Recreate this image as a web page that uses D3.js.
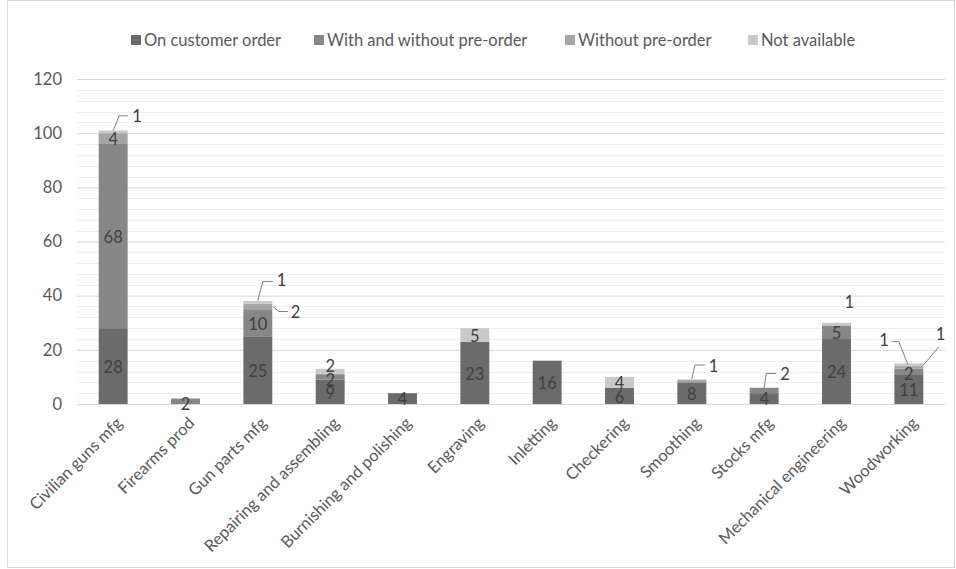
<!DOCTYPE html>
<meta charset="utf-8">
<title>Workshops by order type</title>
<script src="https://cdn.jsdelivr.net/npm/d3@7"></script>
<style>
html, body {
    margin: 0;
    background: #fff;
}
text {
    font-family: Lato, "Open Sans", sans-serif;
}
</style>
<body>
<script>
var categories = ["Civilian guns mfg", "Firearms prod", "Gun parts mfg", "Repairing and assembling",
    "Burnishing and polishing", "Engraving", "Inletting", "Checkering", "Smoothing", "Stocks mfg",
    "Mechanical engineering", "Woodworking"];
var seriesNames = ["On customer order", "With and without pre-order", "Without pre-order", "Not available"];
var onCustomer     = [28, 0, 25, 9, 4, 23, 16, 6, 8, 4, 24, 11];
var withAndWithout = [68, 2, 10, 2, 0, 0, 0, 0, 0, 2, 5, 2];
var withoutPre     = [4, 0, 2, 0, 0, 0, 0, 0, 1, 0, 0, 1];
var notAvailable   = [1, 0, 1, 2, 0, 5, 0, 4, 0, 0, 1, 1];
var yTicks = [0, 20, 40, 60, 80, 100, 120];

var keys = ["onCustomer", "withAndWithout", "withoutPre", "notAvailable"];
var colors = ["#6b6b6b", "#878787", "#a5a5a5", "#c9c9c9"];

// labels that sit off their segment (offsets from segment centre)
var callouts = [
    {cat: 0, key: "notAvailable", pts: [[0, -1], [6, -16], [15, -16]], at: [19, -16], anchor: "start"},
    {cat: 2, key: "notAvailable", pts: [[0, -2], [5, -21], [15, -21]], at: [19, -22], anchor: "start"},
    {cat: 2, key: "withoutPre", pts: [[15, 0], [21, 5], [30, 5]], at: [33, 6], anchor: "start"},
    {cat: 3, key: "notAvailable", pts: [], at: [0, -5], anchor: "middle"},
    {cat: 8, key: "withoutPre", pts: [[0, -2], [3, -16], [13, -16]], at: [17, -15], anchor: "start"},
    {cat: 9, key: "withAndWithout", pts: [[0, -2], [2, -17], [12, -17]], at: [16, -16], anchor: "start"},
    {cat: 10, key: "notAvailable", pts: [], at: [8, -22], anchor: "start"},
    {cat: 11, key: "withoutPre", pts: [[-1, -3], [-10, -26], [-17, -26]], at: [-20, -27], anchor: "end"},
    {cat: 11, key: "notAvailable", pts: [[14, 1], [30, -18]], at: [27, -31], anchor: "start"}
];

var width = 956,
    height = 569,
    plotLeft = 77,
    plotRight = 945,
    plotTop = 79,
    plotBottom = 404,
    fontSize = "16.5px";

var table = categories.map(function(c, i) {
    return {cat: c, i: i, onCustomer: onCustomer[i], withAndWithout: withAndWithout[i],
        withoutPre: withoutPre[i], notAvailable: notAvailable[i]};
});

var stacked = d3.stack().keys(keys)(table);

var x = d3.scaleBand().domain(categories).range([plotLeft, plotRight]).paddingInner(0.6).paddingOuter(0.3);
var y = d3.scaleLinear().domain([0, 120]).range([plotBottom, plotTop]);

var svg = d3.select("body").append("svg")
    .attr("width", width)
    .attr("height", height);

svg.append("rect")
    .attr("x", 7.5).attr("y", 0.5)
    .attr("width", 947).attr("height", 567)
    .attr("fill", "#fff")
    .attr("stroke", "#d9d9d9");

// minor grid every 4, major every 20
svg.append("g").selectAll("line")
    .data(d3.range(4, 121, 4).filter(function(v) { return v % 20 !== 0; }))
    .enter().append("line")
    .attr("x1", plotLeft).attr("x2", plotRight)
    .attr("y1", function(d) { return Math.round(y(d)) + 0.5; })
    .attr("y2", function(d) { return Math.round(y(d)) + 0.5; })
    .attr("stroke", "#efefef");

var yAxis = svg.append("g")
    .attr("transform", "translate(" + plotLeft + ",0)")
    .call(d3.axisLeft(y).tickValues(yTicks).tickSize(-(plotRight - plotLeft)).tickPadding(15));
yAxis.select(".domain").remove();
yAxis.selectAll(".tick line").attr("stroke", "#d9d9d9");
yAxis.selectAll(".tick text").attr("fill", "#595959").style("font-size", fontSize);

var layers = svg.append("g").selectAll("g")
    .data(stacked)
    .enter().append("g")
    .attr("fill", function(d, i) { return colors[i]; });

layers.selectAll("rect")
    .data(function(d) { return d; })
    .enter().append("rect")
    .attr("x", function(d) { return x(d.data.cat); })
    .attr("width", x.bandwidth())
    .attr("y", function(d) { return y(d[1]); })
    .attr("height", function(d) { return y(d[0]) - y(d[1]); });

svg.append("line")
    .attr("x1", plotLeft).attr("x2", plotRight)
    .attr("y1", plotBottom + 0.5).attr("y2", plotBottom + 0.5)
    .attr("stroke", "#d9d9d9");

// data labels
var labels = svg.append("g")
    .style("font-size", fontSize)
    .attr("fill", "#404040");

stacked.forEach(function(layer) {
    layer.forEach(function(d) {
        var v = d[1] - d[0];
        if (!v) return;
        var cx = x(d.data.cat) + x.bandwidth() / 2,
            cy = (y(d[0]) + y(d[1])) / 2;
        var co = callouts.filter(function(c) { return c.cat === d.data.i && c.key === layer.key; })[0];
        if (co) {
            if (co.pts.length) {
                labels.append("path")
                    .attr("d", d3.line()(co.pts.map(function(p) { return [cx + p[0], cy + p[1]]; })))
                    .attr("fill", "none")
                    .attr("stroke", "#7f7f7f");
            }
            labels.append("text")
                .attr("x", cx + co.at[0])
                .attr("y", cy + co.at[1])
                .attr("dy", "0.35em")
                .attr("text-anchor", co.anchor)
                .text(v);
        } else {
            labels.append("text")
                .attr("x", cx)
                .attr("y", cy + (v <= 2 ? 3 : 1))
                .attr("dy", "0.35em")
                .attr("text-anchor", "middle")
                .text(v);
        }
    });
});

// category labels
svg.append("g").selectAll("text")
    .data(categories)
    .enter().append("text")
    .attr("transform", function(d) {
        return "translate(" + (x(d) + x.bandwidth() / 2 + 6) + "," + (plotBottom + 16) + ") rotate(-45)";
    })
    .attr("text-anchor", "end")
    .attr("dy", "0.35em")
    .attr("fill", "#595959")
    .style("font-size", fontSize)
    .text(function(d) { return d; });

// legend
var legendX = [131, 314, 565, 748];
var legend = svg.append("g").selectAll("g")
    .data(seriesNames)
    .enter().append("g")
    .attr("transform", function(d, i) { return "translate(" + legendX[i] + ",40)"; });
legend.append("rect")
    .attr("x", 0).attr("y", -5)
    .attr("width", 10).attr("height", 10)
    .attr("fill", function(d, i) { return colors[i]; });
legend.append("text")
    .attr("x", 13)
    .attr("dy", "0.35em")
    .attr("fill", "#595959")
    .style("font-size", fontSize)
    .text(function(d) { return d; });
</script>
